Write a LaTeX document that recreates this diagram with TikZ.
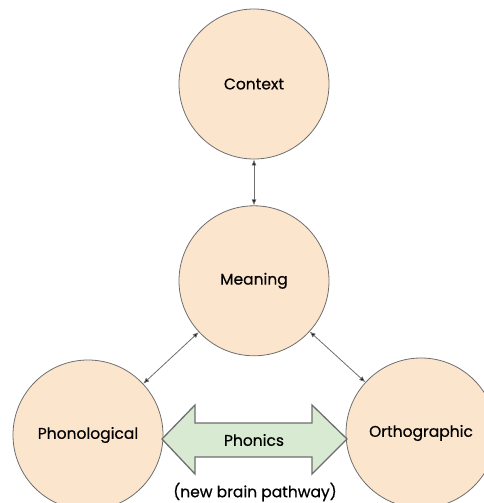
\documentclass[tikz,border=0pt]{standalone}
\usepackage{fontspec}
\setmainfont{Poppins}[FakeBold=0.5]
\usetikzlibrary{positioning, arrows.meta, calc}

\definecolor{peach}{HTML}{FCE5CD}
\definecolor{mint}{HTML}{D9EAD3}
\definecolor{edgegray}{HTML}{6E6E6E}

\begin{document}
\begin{tikzpicture}[
  x=1pt, y=-1pt,
  concept/.style = {circle, draw=edgegray, fill=peach, line width=0.8pt,
    minimum size=150pt, inner sep=0pt, font=\fontsize{15.5}{18}\selectfont},
  link/.style = {<->, >={Latex[length=6pt,width=5pt]}, draw=edgegray, line width=0.8pt}
]
  \useasboundingbox (0,0) rectangle (484,503);

  % Place the concept circles
  \node[concept] (context) at (254,84) {Context};
  \node[concept] (meaning) [below=46pt of context] {Meaning};
  \node[concept] (phono) at (88,435) {Phonological};
  \node[concept] (ortho) at (421,433) {Orthographic};

  % Draw the links
  \path[link]
    (context) edge (meaning)
    (meaning) edge (phono)
    (meaning) edge (ortho)
  ;

  % The phonics pathway
  \path[draw=edgegray, fill=mint, line width=1.3pt, line join=miter]
    (162,439) -- (195,405) -- (195,423) -- (312,423) -- (312,405)
      -- (347,439) -- (312,474) -- (312,457) -- (195,457) -- (195,474) -- cycle
  ;
  \node[font=\fontsize{15.5}{18}\selectfont] (phonics) at (254,440) {Phonics};
  \node[font=\fontsize{15.5}{18}\selectfont] (pathway_note) at (255,492) {(new brain pathway)};
\end{tikzpicture}
\end{document}
